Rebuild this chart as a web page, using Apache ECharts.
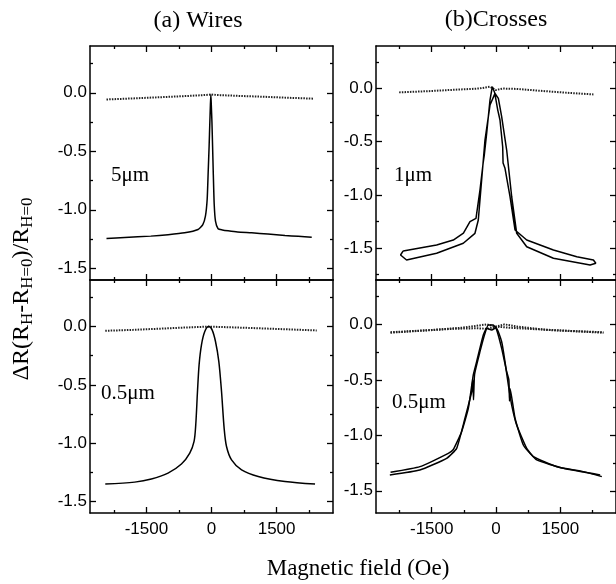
<!DOCTYPE html>
<html><head><meta charset="utf-8">
<script src="https://cdn.jsdelivr.net/npm/echarts@6/dist/echarts.min.js"></script>
<style>html,body{margin:0;padding:0;background:#fff}#c{width:616px;height:584px}</style>
</head><body><div id="c"></div>
<script>
// ---- tick values ----
const xMajorTicks = [-1500, 0, 1500];
const xMinorTicks = [-2250, -750, 750, 2250];
const yMajorTicks = [-1.5, -1.0, -0.5, 0.0];
const yMinorTicks = [-1.75, -1.25, -0.75, -0.25, 0.25];

// ---- (a) Wires, 5 um ----
const tlSolidX = [-2420, -2000, -1400, -1000, -620, -310, -200, -140, -100, -77, -55, -38, -25, -15, -5, 10, 25, 42, 62, 92, 152, 250, 383, 600, 924, 1300, 1693, 2000, 2310];
const tlSolidY = [-1.245, -1.237, -1.225, -1.213, -1.197, -1.168, -1.126, -1.054, -0.912, -0.684, -0.456, -0.25, -0.1, -0.015, -0.1, -0.25, -0.456, -0.7, -0.95, -1.097, -1.162, -1.172, -1.18, -1.19, -1.197, -1.207, -1.22, -1.227, -1.234];
const tlDotX = [-2420, -1800, -1200, -600, -200, -20, 200, 600, 1200, 1800, 2350];
const tlDotY = [-0.057, -0.048, -0.038, -0.028, -0.02, -0.015, -0.02, -0.026, -0.034, -0.043, -0.05];

// ---- (a) Wires, 0.5 um ----
const blSolidX = [-2448, -1771, -1386, -1002, -693, -501, -402, -363, -323, -286, -231, -155, -62, 14, 92, 169, 231, 291, 346, 462, 693, 1077, 1693, 2386];
const blSolidY = [-1.352, -1.335, -1.309, -1.258, -1.18, -1.086, -0.986, -0.843, -0.557, -0.328, -0.156, -0.042, 0.0, -0.028, -0.128, -0.3, -0.557, -0.871, -1.029, -1.144, -1.23, -1.287, -1.33, -1.352];
const blDotX = [-2448, -1800, -1200, -600, -60, 600, 1200, 1800, 2425];
const blDotY = [-0.036, -0.028, -0.018, -0.008, 0.0, -0.008, -0.016, -0.024, -0.033];

// ---- (b) Crosses, 1 um (hysteresis loop, traced in sweep order) ----
const trSolidX = [-2166, -1386, -997, -760, -607, -467, -374, -300, -273, -218, -140, -86, -30, 40, 93, 156, 165, 210, 327, 444, 717, 1340, 1885, 2273, 2329,
                  2196, 1340, 717, 483, 366, 249, 132, 55, -23, -140, -257, -335, -413, -491, -763, -1386, -2087, -2227, -2166];
const trSolidY = [-1.527, -1.471, -1.424, -1.36, -1.252, -1.22, -0.954, -0.7, -0.625, -0.421, -0.108, 0.017, -0.04, -0.2, -0.296, -0.547, -0.7, -0.75, -1.017, -1.33, -1.424, -1.518, -1.581, -1.612, -1.643,
                  -1.659, -1.596, -1.487, -1.361, -1.017, -0.578, -0.265, -0.092, -0.045, -0.155, -0.484, -0.86, -1.236, -1.361, -1.455, -1.549, -1.612, -1.565, -1.527];
const trDotX = [-2260, -1600, -1000, -400, -140, 0, 160, 500, 1000, 1600, 2273];
const trDotY = [-0.036, -0.025, -0.012, 0.0, 0.017, -0.014, 0.0, -0.004, -0.02, -0.038, -0.055];

// ---- (b) Crosses, 0.5 um ----
const brSolidAX = [-2477, -1776, -1152, -918, -724, -568, -540, -525, -500, -374, -257, -179, -62, 16, 132, 249, 300, 315, 330, 444, 638, 872, 1418, 2040, 2469];
const brSolidAY = [-1.357, -1.312, -1.207, -1.117, -0.846, -0.607, -0.5, -0.68, -0.45, -0.246, -0.08, -0.005, -0.005, -0.05, -0.216, -0.426, -0.5, -0.69, -0.58, -0.846, -1.087, -1.192, -1.283, -1.327, -1.372];
const brSolidBX = [-2461, -1776, -1113, -1000, -802, -646, -530, -452, -296, -218, -101, 0, 132, 210, 288, 366, 483, 717, 950, 1573, 2430];
const brSolidBY = [-1.333, -1.282, -1.162, -1.13, -0.967, -0.757, -0.456, -0.336, -0.096, -0.035, -0.05, -0.029, -0.156, -0.336, -0.546, -0.727, -0.907, -1.117, -1.222, -1.297, -1.357];
const brDotAX = [-2461, -1500, -800, -400, -218, 0, 300, 1000, 1800, 2507];
const brDotAY = [-0.071, -0.05, -0.03, -0.01, 0.0, -0.02, -0.03, -0.045, -0.06, -0.071];
const brDotBX = [-2461, -1000, -450, -200, 50, 200, 500, 1200, 2507];
const brDotBY = [-0.075, -0.04, -0.035, -0.04, -0.015, 0.0, -0.02, -0.05, -0.075];

const zip = (xs, ys) => xs.map((x, i) => [x, ys[i]]);

const X_MIN = -2800, X_MAX = 2800;
const grids = [
  {left: 90, top: 46, width: 243, height: 234, ymin: -1.6, ymax: 0.4, xLabels: false},
  {left: 90, top: 280, width: 243, height: 233, ymin: -1.6, ymax: 0.4, xLabels: true},
  {left: 376, top: 46, width: 240, height: 234, ymin: -1.8, ymax: 0.4, xLabels: false},
  {left: 376, top: 280, width: 240, height: 233, ymin: -1.7, ymax: 0.4, xLabels: true}
];

const black = '#000';
const tickFont = {fontFamily: 'Liberation Sans, Arial, sans-serif', fontSize: 17, color: black};

function mkAxes(gi, min, max, major, minor, posA, posB, showLabels, fmt, margin) {
  const minorIn = minor.filter(v => v > min && v < max);
  const base = {gridIndex: gi, type: 'value', min, max, splitLine: {show: false}};
  const line = {show: true, onZero: false, lineStyle: {color: black, width: 1.5}};
  const noLine = {show: false, onZero: false};
  const tickStyle = {color: black, width: 1.3};
  return [
    Object.assign({}, base, {position: posA, axisLine: line,
      axisTick: {show: true, inside: true, length: 6, customValues: major, lineStyle: tickStyle},
      axisLabel: Object.assign({show: showLabels, customValues: major, formatter: fmt, margin}, tickFont)}),
    Object.assign({}, base, {position: posA, axisLine: noLine,
      axisTick: {show: true, inside: true, length: 3, customValues: minorIn, lineStyle: tickStyle},
      axisLabel: {show: false}}),
    Object.assign({}, base, {position: posB, axisLine: line,
      axisTick: {show: true, inside: true, length: 6, customValues: major, lineStyle: tickStyle},
      axisLabel: {show: false}}),
    Object.assign({}, base, {position: posB, axisLine: noLine,
      axisTick: {show: true, inside: true, length: 3, customValues: minorIn, lineStyle: tickStyle},
      axisLabel: {show: false}})
  ];
}

const xAxes = [], yAxes = [];
grids.forEach((g, i) => {
  xAxes.push(...mkAxes(i, X_MIN, X_MAX, xMajorTicks, xMinorTicks, 'bottom', 'top', g.xLabels, v => String(v), 8));
  yAxes.push(...mkAxes(i, g.ymin, g.ymax, yMajorTicks, yMinorTicks, 'left', 'right', true, v => v.toFixed(1), 3));
});

function solid(gi, data) {
  return {type: 'line', xAxisIndex: gi * 4, yAxisIndex: gi * 4, data, symbol: 'none', showSymbol: false,
    lineStyle: {color: black, width: 1.5}, silent: true, animation: false};
}
function dotted(gi, data) {
  return {type: 'line', xAxisIndex: gi * 4, yAxisIndex: gi * 4, data, symbol: 'none', showSymbol: false,
    lineStyle: {color: '#222', width: 2, type: [1.5, 1.2]}, silent: true, animation: false};
}

const series = [
  dotted(0, zip(tlDotX, tlDotY)), Object.assign(solid(0, zip(tlSolidX, tlSolidY)), {smooth: 0.2}),
  dotted(1, zip(blDotX, blDotY)), Object.assign(solid(1, zip(blSolidX, blSolidY)), {smooth: 0.3}),
  dotted(2, zip(trDotX, trDotY)), solid(2, zip(trSolidX, trSolidY)),
  dotted(3, zip(brDotAX, brDotAY)), dotted(3, zip(brDotBX, brDotBY)),
  Object.assign(solid(3, zip(brSolidAX, brSolidAY)), {smooth: 0.15}),
  Object.assign(solid(3, zip(brSolidBX, brSolidBY)), {smooth: 0.15})
];

const serif = 'Liberation Serif, Times New Roman, serif';
function txt(x, y, text, size, align) {
  return {type: 'text', x, y, style: {text, font: size + 'px ' + serif, fill: black,
    textAlign: align || 'left', textVerticalAlign: 'middle'}, silent: true};
}

const graphic = [
  txt(198, 21, '(a) Wires', 24, 'center'),
  txt(496, 20, '(b)Crosses', 24, 'center'),
  txt(358, 569, 'Magnetic field (Oe)', 23, 'center'),
  txt(111, 175, '5\u03bcm', 21),
  txt(394, 175, '1\u03bcm', 21),
  txt(101, 393, '0.5\u03bcm', 21),
  txt(392, 402, '0.5\u03bcm', 21),
  {type: 'text', x: 22, y: 289, rotation: Math.PI / 2, silent: true,
    style: {text: '{m|\u0394R(R}{s|H}{m|-R}{s|H=0}{m|)/R}{s|H=0}', textAlign: 'center', textVerticalAlign: 'middle',
      rich: {
        m: {fontFamily: serif, fontSize: 24, lineHeight: 28, fill: black, color: black, verticalAlign: 'middle'},
        s: {fontFamily: serif, fontSize: 17, lineHeight: 28, fill: black, color: black, verticalAlign: 'middle', padding: [12, 0, 0, 0]}
      }}}
];

const chart = echarts.init(document.getElementById('c'), null, {renderer: 'canvas'});
chart.setOption({
  animation: false,
  backgroundColor: '#fff',
  grid: grids.map(g => ({left: g.left, top: g.top, width: g.width, height: g.height, containLabel: false})),
  xAxis: xAxes,
  yAxis: yAxes,
  series,
  graphic
});
</script></body></html>
